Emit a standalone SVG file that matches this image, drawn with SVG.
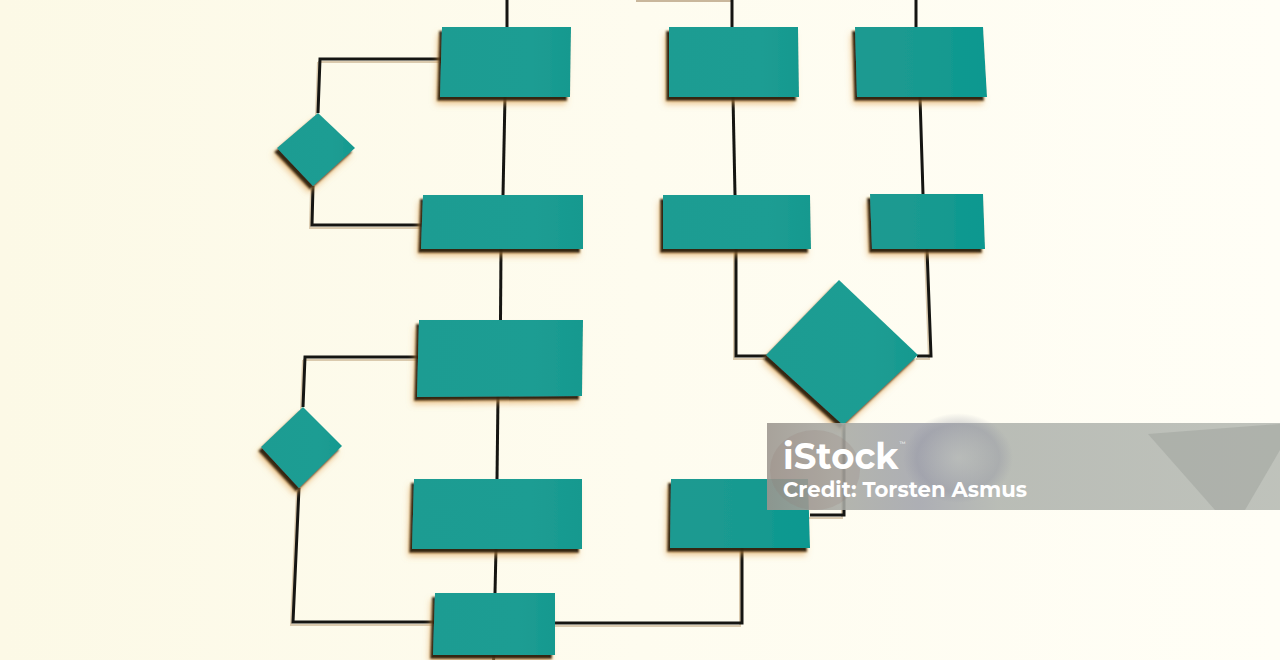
<svg xmlns="http://www.w3.org/2000/svg" width="1280" height="660" viewBox="0 0 1280 660">
<defs>
<linearGradient id="bg" x1="0" y1="0" x2="1" y2="0">
<stop offset="0" stop-color="#fcf9e6"/>
<stop offset="0.5" stop-color="#fefcef"/>
<stop offset="1" stop-color="#fffef6"/>
</linearGradient>
<linearGradient id="teal" x1="0" y1="0" x2="1" y2="0">
<stop offset="0" stop-color="#1f9c92"/>
<stop offset="0.7" stop-color="#1e9d93"/>
<stop offset="1" stop-color="#15998f"/>
</linearGradient>
<linearGradient id="tealR" x1="0" y1="0" x2="1" y2="0">
<stop offset="0" stop-color="#1f9a91"/>
<stop offset="0.6" stop-color="#179a90"/>
<stop offset="1" stop-color="#079890"/>
</linearGradient>
<filter id="sh" x="-20%" y="-20%" width="140%" height="160%">
<feOffset in="SourceAlpha" dx="-4" dy="7" result="o2"/>
<feGaussianBlur in="o2" stdDeviation="3" result="b2"/>
<feFlood flood-color="#e0a050" flood-opacity="0.6"/>
<feComposite in2="b2" operator="in" result="glow"/>
<feOffset in="SourceAlpha" dx="-3" dy="4" result="o1"/>
<feGaussianBlur in="o1" stdDeviation="1.3" result="b1"/>
<feFlood flood-color="#15140e" flood-opacity="0.95"/>
<feComposite in2="b1" operator="in" result="dark"/>
<feMerge><feMergeNode in="glow"/><feMergeNode in="dark"/><feMergeNode in="SourceGraphic"/></feMerge>
</filter>
<linearGradient id="band" x1="0" y1="0" x2="1" y2="0">
<stop offset="0" stop-color="#9c968f"/>
<stop offset="0.15" stop-color="#a9aba5"/>
<stop offset="0.3" stop-color="#a2a4ac"/>
<stop offset="0.45" stop-color="#b0b4ae"/>
<stop offset="1" stop-color="#b6bab3"/>
</linearGradient>
<radialGradient id="swirl" cx="0.5" cy="0.5" r="0.5">
<stop offset="0" stop-color="#c4c8c2" stop-opacity="0.3"/>
<stop offset="0.75" stop-color="#8e90a0" stop-opacity="0.35"/>
<stop offset="1" stop-color="#8e90a0" stop-opacity="0"/>
</radialGradient>
</defs>
<style>
.ln{fill:none;stroke:#151512;stroke-width:3;stroke-linejoin:miter}
.lns{fill:none;stroke:#cdb99a;stroke-width:2;opacity:0.75}
.nd{fill:url(#teal);filter:url(#sh)}
.ndr{fill:url(#tealR);filter:url(#sh)}
.wm{fill:#ffffff;font-family:"Montserrat","Open Sans","Liberation Sans",sans-serif;font-weight:700}
</style>
<rect width="1280" height="660" fill="url(#bg)"/>
<g id="connectors">
<g transform="translate(-2,3)">
<path class="lns" d="M320,59 L441,59 M320,59 L318,113 M313,186 L312,225 L422,225"/>
<path class="lns" d="M305,357 L419,357 M305,357 L303,407 M299,488 L293,622 L435,622"/>
<path class="lns" d="M555,623 L742,623 L742,548"/>
<path class="lns" d="M736,249 L736,356 L766,356 M927,249 L931,356 L918,356"/>
<path class="lns" d="M844,425 L844,515 L810,515"/>
</g>
<path d="M636,1 L731,1" fill="none" stroke="#c9b79c" stroke-width="2"/>
<path class="ln" d="M507,0 L507,28"/>
<path class="ln" d="M505,97 L503,195"/>
<path class="ln" d="M501,249 L500.5,320"/>
<path class="ln" d="M498,396 L497,479"/>
<path class="ln" d="M496,549 L495,593"/>
<path class="ln" d="M494,655 L493.5,660"/>
<path class="ln" d="M441,59 L320,59 L318,113"/>
<path class="ln" d="M313,186 L312,225 L422,225"/>
<path class="ln" d="M419,357 L305,357 L303,407"/>
<path class="ln" d="M299,488 L293,622 L435,622"/>
<path class="ln" d="M555,623 L742,623 L742,548"/>
<path class="ln" d="M732,0 L732,28"/>
<path class="ln" d="M733,97 L735,195"/>
<path class="ln" d="M916,0 L916,28"/>
<path class="ln" d="M920,97 L923,194"/>
<path class="ln" d="M736,249 L736,356 L767,356"/>
<path class="ln" d="M927,249 L931,356 L917,356"/>
<path class="ln" d="M844,424 L844,515 L810,515"/>
</g>
<g id="box-a"><polygon class="nd" points="442,27 571,27 570,97 440,97"/></g>
<g id="box-b"><polygon class="nd" points="423,195 583,195 583,249 421,249"/></g>
<g id="decision-1"><polygon class="nd" points="318,113 355,148 313,186 277,148"/></g>
<g id="box-c"><polygon class="nd" points="419,320 583,320 582,396 417,397"/></g>
<g id="decision-2"><polygon class="nd" points="303,407 342,446 299,488 261,447"/></g>
<g id="box-d"><polygon class="nd" points="414,479 582,479 582,549 412,549"/></g>
<g id="box-e"><polygon class="nd" points="435,593 555,593 555,655 433,655"/></g>
<g id="box-h"><polygon class="nd" points="669,27 798,27 799,97 669,97"/></g>
<g id="box-g"><polygon class="nd" points="663,195 810,195 811,249 663,249"/></g>
<g id="box-i"><polygon class="ndr" points="855,27 983,27 987,97 857,97"/></g>
<g id="box-j"><polygon class="ndr" points="870,194 983,194 985,249 872,249"/></g>
<g id="decision-3"><polygon class="nd" points="839,280 918,355 843,425 766,355"/></g>
<g id="box-f"><polygon class="ndr" points="671,479 808,479 810,548 670,548"/></g>
<g id="watermark">
<rect x="767" y="423" width="513" height="87" fill="url(#band)" opacity="0.88"/>
<ellipse cx="958" cy="458" rx="55" ry="45" fill="url(#swirl)"/>
<ellipse cx="815" cy="470" rx="45" ry="40" fill="#8e7470" opacity="0.18"/>
<polygon points="1148,434 1280,424 1280,450 1245,510 1215,510" fill="#9ea29c" opacity="0.5"/>
<text class="wm" x="783" y="469" font-size="35.5">iStock<tspan font-size="6" font-weight="400" dx="1" dy="-23">™</tspan></text>
<text class="wm" x="783" y="497" font-size="21" textLength="244" lengthAdjust="spacingAndGlyphs">Credit: Torsten Asmus</text>
</g>
</svg>
